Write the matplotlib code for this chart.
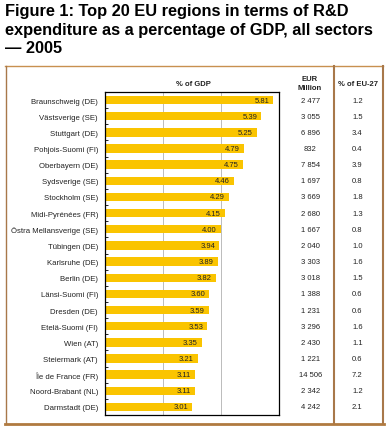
import matplotlib.pyplot as plt
from matplotlib.lines import Line2D

plt.rcParams['font.family'] = ['Liberation Sans', 'DejaVu Sans']

regions = ['Braunschweig (DE)', 'Västsverige (SE)', 'Stuttgart (DE)', 'Pohjois-Suomi (FI)',
           'Oberbayern (DE)', 'Sydsverige (SE)', 'Stockholm (SE)', 'Midi-Pyrénées (FR)',
           'Östra Mellansverige (SE)', 'Tübingen (DE)', 'Karlsruhe (DE)', 'Berlin (DE)',
           'Länsi-Suomi (FI)', 'Dresden (DE)', 'Etelä-Suomi (FI)', 'Wien (AT)',
           'Steiermark (AT)', 'Île de France (FR)', 'Noord-Brabant (NL)', 'Darmstadt (DE)']
pct_gdp = [5.81, 5.39, 5.25, 4.79, 4.75, 4.46, 4.29, 4.15, 4.00, 3.94,
           3.89, 3.82, 3.60, 3.59, 3.53, 3.35, 3.21, 3.11, 3.11, 3.01]
eur_million = ['2 477', '3 055', '6 896', '832', '7 854', '1 697', '3 669', '2 680', '1 667', '2 040',
               '3 303', '3 018', '1 388', '1 231', '3 296', '2 430', '1 221', '14 506', '2 342', '4 242']
pct_eu27 = ['1.2', '1.5', '3.4', '0.4', '3.9', '0.8', '1.8', '1.3', '0.8', '1.0',
            '1.6', '1.5', '0.6', '0.6', '1.6', '1.1', '0.6', '7.2', '1.2', '2.1']

W, H = 386, 427
fig = plt.figure(figsize=(W / 100, H / 100), dpi=100)


def fx(x):
    return x / W


def fy(y):
    return 1 - y / H


txt = '#222222'
brown = '#A8784A'

fig.text(fx(5), fy(4), 'Figure 1: Top 20 EU regions in terms of R&D\n'
         'expenditure as a percentage of GDP, all sectors\n— 2005',
         ha='left', va='top', fontsize=11.8, fontweight='bold', color='black', linespacing=1.3)

# frame
fig.add_artist(Line2D([fx(5), fx(383)], [fy(67), fy(67)], color='#C89050', lw=1.0))
fig.add_artist(Line2D([fx(5.5), fx(5.5)], [fy(67), fy(425)], color=brown, lw=1.0))
fig.add_artist(Line2D([fx(383), fx(383)], [fy(67), fy(425)], color=brown, lw=1.5))
fig.add_artist(Line2D([fx(334), fx(334)], [fy(67), fy(425)], color=brown, lw=1.5))
fig.add_artist(Line2D([fx(5), fx(384)], [fy(425), fy(425)], color='#B07A40', lw=2.0))

ax = fig.add_axes([fx(105), fy(416), fx(279) - fx(105), (416 - 93) / H])
y = list(range(len(regions)))
ax.barh(y, pct_gdp, height=0.52, color='#FAC400', zorder=2)
for v in [2, 4]:
    ax.axvline(v, color='#BBBBBB', lw=0.7, zorder=1)
for i, v in enumerate(pct_gdp):
    ax.annotate(f'{v:.2f}', (v, i), xytext=(-3, 0), textcoords='offset points',
                ha='right', va='center', fontsize=5.5, color=txt, zorder=3)

ax.set_xlim(0, 6)
ax.set_ylim(len(regions) - 0.5, -0.5)
ax.set_xticks([])
ax.set_yticks(y)
ax.set_yticklabels(regions, fontsize=5.6, color=txt)
ax.tick_params(axis='y', which='major', length=0, pad=5)
ax.set_yticks([i + 0.5 for i in range(len(regions) - 1)], minor=True)
ax.tick_params(axis='y', which='minor', length=2, direction='in', width=0.6)
for s in ax.spines.values():
    s.set_linewidth(0.9)
    s.set_color('black')

# headers
fig.text(fx(193), fy(84), '% of GDP', ha='center', va='center', fontsize=5.5, fontweight='bold', color=txt)
fig.text(fx(310), fy(84), 'EUR\nMillion', ha='center', va='center', fontsize=5.5,
         fontweight='bold', color=txt, linespacing=1.3)
fig.text(fx(358), fy(84), '% of EU-27', ha='center', va='center', fontsize=5.5, fontweight='bold', color=txt)

# table columns aligned to bar rows
for i in y:
    ax.text(1.18, i, eur_million[i], transform=ax.get_yaxis_transform(), ha='center', va='center',
            fontsize=5.5, color=txt, clip_on=False)
    ax.text(1.45, i, pct_eu27[i], transform=ax.get_yaxis_transform(), ha='center', va='center',
            fontsize=5.5, color=txt, clip_on=False)

fig.savefig('out.png', dpi=100, facecolor='white')
